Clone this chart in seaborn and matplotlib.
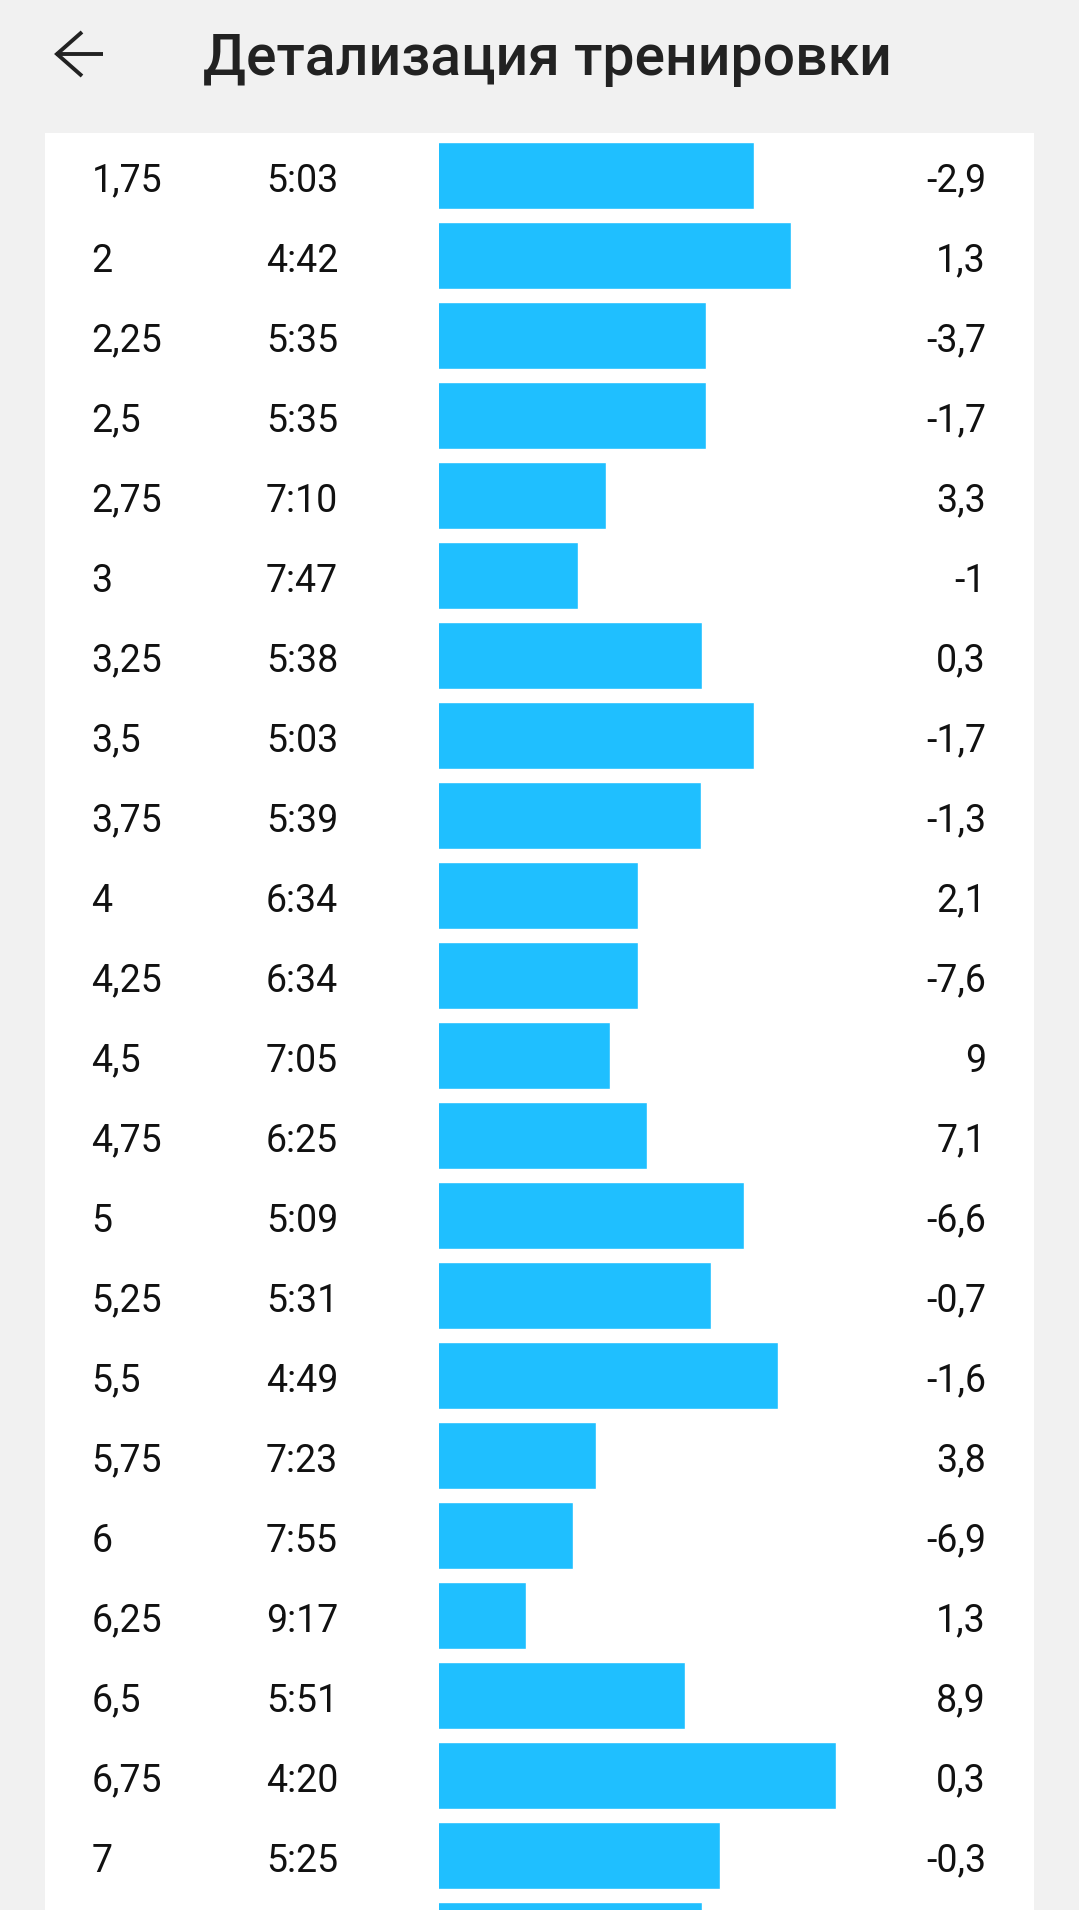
import matplotlib
matplotlib.use("Agg")
import matplotlib.pyplot as plt
import matplotlib.transforms as mtransforms
from matplotlib.patches import Rectangle
from matplotlib.lines import Line2D
import seaborn as sns
import pandas as pd

# ---- data ----
distances = ["1,75", "2", "2,25", "2,5", "2,75", "3", "3,25", "3,5", "3,75", "4",
             "4,25", "4,5", "4,75", "5", "5,25", "5,5", "5,75", "6", "6,25", "6,5",
             "6,75", "7", "7,25"]
paces = ["5:03", "4:42", "5:35", "5:35", "7:10", "7:47", "5:38", "5:03", "5:39", "6:34",
         "6:34", "7:05", "6:25", "5:09", "5:31", "4:49", "7:23", "7:55", "9:17", "5:51",
         "4:20", "5:25", "5:38"]
diffs = ["-2,9", "1,3", "-3,7", "-1,7", "3,3", "-1", "0,3", "-1,7", "-1,3", "2,1",
         "-7,6", "9", "7,1", "-6,6", "-0,7", "-1,6", "3,8", "-6,9", "1,3", "8,9",
         "0,3", "-0,3", ""]
title = "Детализация тренировки"


def pace_to_speed(p):
    m, s = p.split(":")
    return 3600.0 / (int(m) * 60 + int(s))


df = pd.DataFrame({"dist": distances, "pace": paces,
                   "speed": [pace_to_speed(p) for p in paces]})

sns.set_theme(style="white")
plt.rcParams["font.family"] = ["Roboto", "DejaVu Sans"]

W, H = 1079, 1910
fig = plt.figure(figsize=(W / 100, H / 100), dpi=100)
fig.patch.set_facecolor("#f1f1f1")

# white panel
panel_top = 132.7
fig.patches.append(Rectangle((45 / W, 0), (1034 - 45) / W, (H - panel_top) / H,
                             transform=fig.transFigure, facecolor="white",
                             edgecolor="none", zorder=-10))

bar_left_px = 439
ax = fig.add_axes([bar_left_px / W, 0, (1034 - bar_left_px) / W, (H - panel_top) / H])
ax.set_facecolor("none")

sns.barplot(data=df, x="speed", y="dist", orient="h", color="#1fbfff",
            saturation=1, width=0.845, ax=ax)

px_per_kmh = 42.05
x0 = 4.4
ax.set_xlim(x0, x0 + (1034 - bar_left_px) / px_per_kmh)
row_px = 80.0
first_center = 175.5
ax.set_ylim((H - first_center) / row_px, -(first_center - panel_top) / row_px)
for s in ax.spines.values():
    s.set_visible(False)
ax.set_xticks([])
ax.set_yticks([])
ax.set_xlabel("")
ax.set_ylabel("")

tr = mtransforms.blended_transform_factory(fig.transFigure, ax.transData)
fs = 27
off = 0.2025
for i, (d, p, v) in enumerate(zip(distances, paces, diffs)):
    baseline_px = first_center + (i + off) * row_px
    if baseline_px > H:
        continue  # row text lies below the visible screen
    ax.text(91.5 / W, i + off, d, transform=tr, ha="left", va="baseline",
            fontsize=fs, color="#111111")
    ax.text(266 / W, i + off, p, transform=tr, ha="left", va="baseline",
            fontsize=fs, color="#111111")
    if v:
        ax.text(986 / W, i + off, v, transform=tr, ha="right", va="baseline",
                fontsize=fs, color="#111111")

# header
fig.text(203 / W, 1 - 75 / H, title, ha="left", va="baseline",
         fontsize=41, fontweight="medium", color="#222222")

# back arrow
def fy(y):
    return 1 - y / H

lw = 2.8
fig.add_artist(Line2D([56 / W, 103 / W], [fy(54), fy(54)], transform=fig.transFigure,
                      color="#222222", lw=lw, solid_capstyle="butt"))
fig.add_artist(Line2D([82 / W, 57 / W, 82 / W], [fy(32), fy(54), fy(76)],
                      transform=fig.transFigure, color="#222222", lw=lw,
                      solid_joinstyle="miter", solid_capstyle="butt"))

fig.savefig("out.png", dpi=100, facecolor=fig.get_facecolor())
